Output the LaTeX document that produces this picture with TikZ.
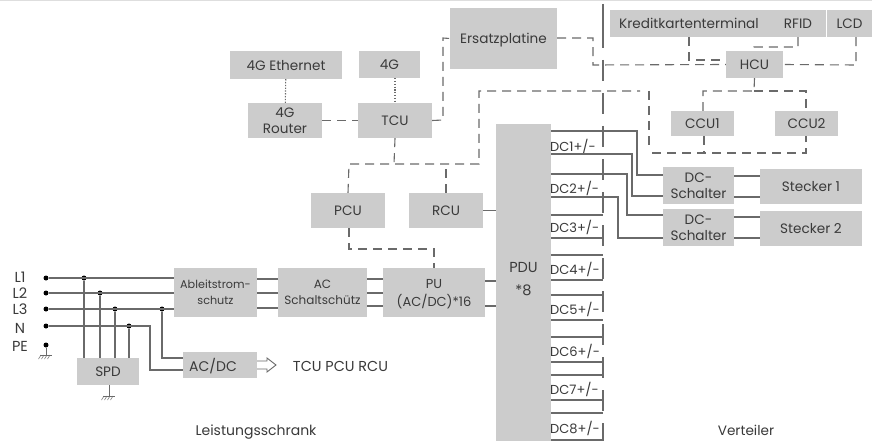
\documentclass[tikz,border=0pt]{standalone}
\usepackage{fontspec}
\setmainfont{Poppins}
\definecolor{bx}{HTML}{CCCCCC}
\definecolor{ln}{HTML}{6A6A6A}
\definecolor{tx}{HTML}{3A3A3A}
\tikzset{
  box/.style={fill=bx,draw=none,inner sep=0pt,align=center,text=tx,text depth=0pt,font=\fontsize{13.6}{16}\selectfont},
  lbl/.style={inner sep=0pt,text=tx,text depth=0pt,font=\fontsize{13.6}{16}\selectfont},
  wire/.style={draw=ln,line width=1.1pt},
  dashw/.style={draw=ln,line width=1.1pt,dash pattern=on 9pt off 6pt},
  dotw/.style={draw=ln,line width=1.1pt,dash pattern=on 1.3pt off 1.5pt},
  jdot/.style={circle,fill=black,inner sep=0pt,minimum size=5pt},
  sep/.style={draw=ln,line width=1.1pt},
}
\begin{document}
\begin{tikzpicture}[x=1pt,y=-1pt]
\useasboundingbox (0,0) rectangle (872,441);
\fill[white] (0,0) rectangle (872,441);
\fill[black!13] (0,0) rectangle (872,1);
% boxes
\node[box,minimum width=112pt,minimum height=28pt] (eth) at (286,65) {4G Ethernet};
\node[box,minimum width=61pt,minimum height=27pt] (fourg) at (389.5,64.5) {4G};
\node[box,minimum width=74pt,minimum height=35pt] (router) at (285,120.5) {4G\\Router};
\node[box,minimum width=74pt,minimum height=35pt] (tcu) at (395,120.5) {TCU};
\node[box,minimum width=107pt,minimum height=61pt] (spare) at (503.5,38.5) {Ersatzplatine};
\node[box,minimum width=216pt,minimum height=27pt] (card) at (718,23.5) {};
\node[lbl] (cardt) at (689,23.5) {Kreditkartenterminal};
\node[lbl] (rfid) at (798,23.5) {RFID};
\node[box,minimum width=45pt,minimum height=27pt] (lcd) at (849.5,23.5) {LCD};
\node[box,minimum width=57pt,minimum height=27pt] (hcu) at (754.5,64.5) {HCU};
\node[box,minimum width=63pt,minimum height=25pt] (ccua) at (702.5,123.5) {CCU1};
\node[box,minimum width=63pt,minimum height=25pt] (ccub) at (806.5,123.5) {CCU2};
\node[box,minimum width=71pt,minimum height=37pt] (swa) at (698.5,185.5) {DC-\\Schalter};
\node[box,minimum width=71pt,minimum height=37pt] (swb) at (698.5,227.5) {DC-\\Schalter};
\node[box,minimum width=102pt,minimum height=35pt] (pga) at (811,186.5) {Stecker 1};
\node[box,minimum width=102pt,minimum height=35pt] (pgb) at (811,228.5) {Stecker 2};
\node[box,minimum width=55pt,minimum height=317pt] (pdu) at (523.5,282.5) {};
\node[lbl,font=\fontsize{14.5}{16}\selectfont] (pdut) at (523.5,267) {PDU};
\node[lbl,font=\fontsize{14.5}{16}\selectfont] (pdun) at (523.5,290) {*8};
\node[box,minimum width=74pt,minimum height=35pt] (pcu) at (348,210.5) {PCU};
\node[box,minimum width=74pt,minimum height=35pt] (rcu) at (446,210.5) {RCU};
\node[box,minimum width=102pt,minimum height=49pt,font=\fontsize{13}{18}\selectfont] (pu) at (434,292.5) {PU\\(AC/DC)*16};
\node[box,minimum width=89pt,minimum height=49pt,font=\fontsize{12}{16}\selectfont] (ac) at (322.5,292.5) {AC\\Schaltschütz};
\node[box,minimum width=83pt,minimum height=49pt,font=\fontsize{11.2}{16}\selectfont] (abl) at (215.5,292.5) {Ableitstrom-\\schutz};
\node[box,minimum width=62pt,minimum height=27pt] (spd) at (108,371.5) {SPD};
\node[box,minimum width=74pt,minimum height=26pt] (acdc) at (220,365) {};
\node[lbl,font=\fontsize{14}{16}\selectfont] (acdct) at (213,364.5) {AC/DC};
% labels
\node[lbl,font=\fontsize{14.5}{16}\selectfont] (la) at (20,277) {L1};
\node[lbl,font=\fontsize{14.5}{16}\selectfont] (lb) at (20,293) {L2};
\node[lbl,font=\fontsize{14.5}{16}\selectfont] (lc) at (20,309) {L3};
\node[lbl,font=\fontsize{14.5}{16}\selectfont] (ln) at (20,328) {N};
\node[lbl,font=\fontsize{14.5}{16}\selectfont] (lp) at (20,346) {PE};
\node[lbl,font=\fontsize{14.4}{16}\selectfont] (aux) at (340.5,366.5) {TCU PCU RCU};
\node[lbl,font=\fontsize{14}{16}\selectfont] (cab) at (256,430) {Leistungsschrank};
\node[lbl] (dist) at (746,430) {Verteiler};
\foreach \n/\y in {1/145,2/187,3/226,4/268,5/308,6/350,7/388,8/427}
  \node[lbl,anchor=west,font=\fontsize{13}{16}\selectfont] (dc\n) at (550,\y) {DC\n+/-};
% junctions
\node[jdot] (ja) at (46,278) {};
\node[jdot] (jb) at (46,293) {};
\node[jdot] (jc) at (46,309) {};
\node[jdot] (jd) at (46,326) {};
\node[jdot] (je) at (46,345) {};
\node[jdot] (ka) at (84,278) {};
\node[jdot] (kb) at (100,293) {};
\node[jdot] (kc) at (115,309) {};
\node[jdot] (kd) at (129,326) {};
\node[jdot] (ke) at (162,309) {};
% mains wiring
\draw[wire] (ja) -- (abl.west |- ja);
\draw[wire] (jb) -- (abl.west |- jb);
\draw[wire] (jc) -- (abl.west |- jc);
\draw[wire] (jd) -- (150,326) -- (150,370) -- (acdc.west |- 0,370);
\draw[wire] (ke) -- (162,358) -- (acdc.west |- 0,358);
\draw[wire] (ka) -- (ka |- spd.north);
\draw[wire] (kb) -- (kb |- spd.north);
\draw[wire] (kc) -- (kc |- spd.north);
\draw[wire] (kd) -- (kd |- spd.north);
\foreach \y in {279,293,308} \draw[wire] (abl.east |- 0,\y) -- (ac.west |- 0,\y);
\foreach \y in {279,293,306} \draw[wire] (ac.east |- 0,\y) -- (pu.west |- 0,\y);
\foreach \y in {281,306} \draw[wire] (pu.east |- 0,\y) -- (pdu.west |- 0,\y);
\draw[wire] (rcu.east) -- (pdu.west |- rcu.east);
% grounds
\coordinate (gp) at (46,355);
\coordinate (gs) at (109,396);
\draw[wire,line width=.8pt] (je) -- (gp);
\draw[wire,line width=.8pt] (gs |- spd.south) -- (gs);
\foreach \g in {gp,gs}{
  \draw[line width=.6pt,draw=ln] ([xshift=-6pt]\g) -- ([xshift=6pt]\g);
  \foreach \d in {-5,-2,1,4} \draw[line width=.5pt,draw=ln] ([xshift=\d*1pt]\g) -- ([xshift={(\d-2.5)*1pt},yshift=-4pt]\g);
}
% hollow arrow
\draw[wire,line width=.9pt] (acdc.east |- 0,361) -- (267,361) -- (267,358) -- (276,365) -- (267,372) -- (267,369) -- (acdc.east |- 0,369);
% dotted
\draw[dotw] (eth) -- (router);
\draw[dotw] (tcu |- fourg.south) -- (tcu);
% dashed
\draw[dashw] (router.east) -- (tcu.west);
\draw[dashw] (tcu.east) -- (443,120) -- (443,38) -- (spare.west);
\draw[dashw] (tcu.south) -- (394,164);
\draw[dashw] (pcu.north) -- (349,164) -- (479,164) -- (479,91) -- (640,91);
\draw[dashw] (649,91) -- (649,146);
\draw[dashw] (652,153) -- (806,153) -- (806,0 |- ccub.south);
\draw[dashw] (rcu.north) -- (446,169);
\draw[dashw] (349,0 |- pcu.south) -- (349,249) -- (434,249) -- (pu.north);
\draw[dashw] (spare.east |- 0,38) -- (593,38) -- (593,65) -- (hcu.west);
\draw[dashw] (689,0 |- card.south) -- (689,60) -- (hcu.west |- 0,60);
\draw[dashw] (798,0 |- card.south) -- (798,47) -- (754,47) -- (hcu.north);
\draw[dashw] (856,0 |- lcd.south) -- (856,65) -- (hcu.east);
\draw[dashw] (hcu.south) -- (754,91) -- (703,91) -- (703,0 |- ccua.north);
\draw[dashw] (754,91) -- (806,91) -- (806,0 |- ccub.north);
\draw[dashw] (704,0 |- ccua.south) -- (704,153);
% divider
\draw[sep] (603,4) -- (603,48);
\draw[sep,dash pattern=on 21pt off 12pt] (603,60) -- (603,441);
% DC outputs
\draw[wire] (pdu.east |- 0,131) -- (637,131) -- (637,175) -- (swa.west |- 0,175);
\draw[wire] (pdu.east |- 0,154) -- (632,154) -- (632,196) -- (swa.west |- 0,196);
\draw[wire] (pdu.east |- 0,174) -- (627,174) -- (627,215) -- (swb.west |- 0,215);
\draw[wire] (pdu.east |- 0,197) -- (618,197) -- (618,238) -- (swb.west |- 0,238);
\foreach \y in {176,197} \draw[wire] (swa.east |- 0,\y) -- (pga.west |- 0,\y);
\foreach \y in {217,238} \draw[wire] (swb.east |- 0,\y) -- (pgb.west |- 0,\y);
\foreach \y in {215,238,255,280,295,320,337,362,375,400,413,440}
  \draw[wire] (pdu.east |- 0,\y) -- (603,\y);
\end{tikzpicture}
\end{document}
